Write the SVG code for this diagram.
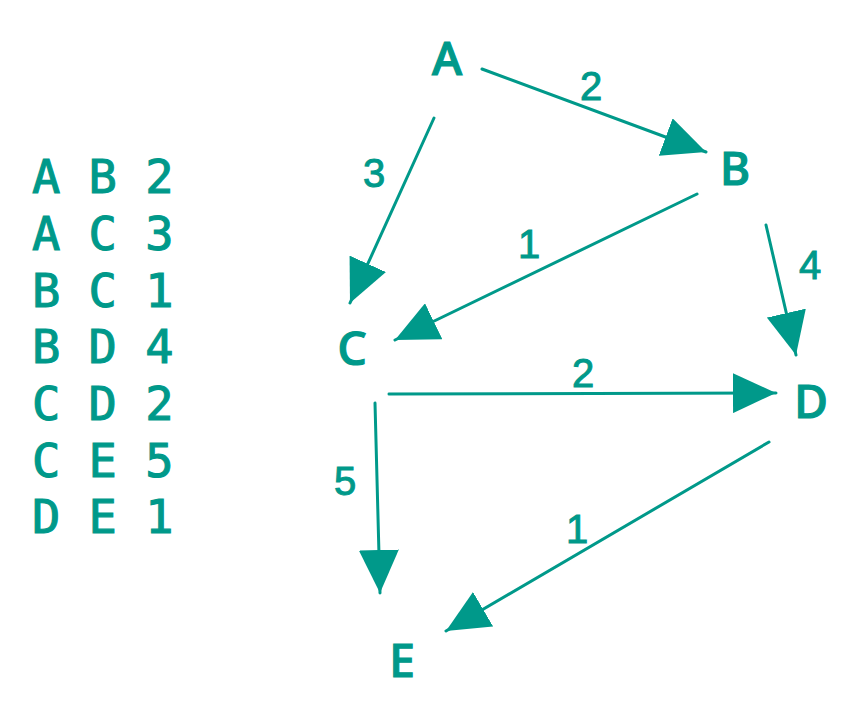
<svg xmlns="http://www.w3.org/2000/svg" width="857" height="719" viewBox="0 0 857 719">
<defs>
<style>
.node{font-family:"Noto Sans","DejaVu Sans",sans-serif;font-size:46px;font-weight:500;fill:#00998a;stroke:#00998a;stroke-width:1.2;text-anchor:middle}
.lbl{font-family:"Liberation Sans","DejaVu Sans",sans-serif;font-size:40px;fill:#00998a;stroke:#00998a;stroke-width:1;text-anchor:middle}
.tbl{font-family:"DejaVu Sans Mono","Liberation Mono",monospace;font-size:47px;font-weight:normal;fill:#00998a;stroke:#00998a;stroke-width:1.1}
.edge{stroke:#00998a;stroke-width:3;fill:none;stroke-linecap:round;marker-end:url(#ah)}
</style>
<marker id="ah" viewBox="0 0 43 40" refX="43" refY="20" markerWidth="43" markerHeight="40" markerUnits="userSpaceOnUse" orient="auto">
<path d="M0,0 L43,20 L0,40 Z" fill="#00998a"/>
</marker>
</defs>
<rect width="857" height="719" fill="#ffffff"/>
<g id="table">
<text class="tbl" x="32" y="193" xml:space="preserve">A B 2</text>
<text class="tbl" x="32" y="250" xml:space="preserve">A C 3</text>
<text class="tbl" x="32" y="307" xml:space="preserve">B C 1</text>
<text class="tbl" x="32" y="363" xml:space="preserve">B D 4</text>
<text class="tbl" x="32" y="420" xml:space="preserve">C D 2</text>
<text class="tbl" x="32" y="477" xml:space="preserve">C E 5</text>
<text class="tbl" x="32" y="533" xml:space="preserve">D E 1</text>
</g>
<g id="connectors">
<path class="edge" d="M482,69 L706,152"/>
<path class="edge" d="M434,118 L350,303"/>
<path class="edge" d="M697,194 L395,340"/>
<path class="edge" d="M766,225 L796,355"/>
<path class="edge" d="M389,394 L776,393"/>
<path class="edge" d="M375,403 L380,593"/>
<path class="edge" d="M769,442 L446,631"/>
<text class="lbl" x="591" y="100">2</text>
<text class="lbl" x="374" y="187">3</text>
<text class="lbl" x="529" y="258">1</text>
<text class="lbl" x="810" y="279">4</text>
<text class="lbl" x="583" y="387">2</text>
<text class="lbl" x="345" y="495">5</text>
<text class="lbl" x="577" y="543">1</text>
</g>
<g id="node-A"><text class="node" x="447" y="75">A</text></g>
<g id="node-B"><text class="node" x="735" y="185">B</text></g>
<g id="node-C"><text class="node" x="352" y="365">C</text></g>
<g id="node-D"><text class="node" x="811" y="418">D</text></g>
<g id="node-E"><text class="node" x="402" y="677">E</text></g>
</svg>
